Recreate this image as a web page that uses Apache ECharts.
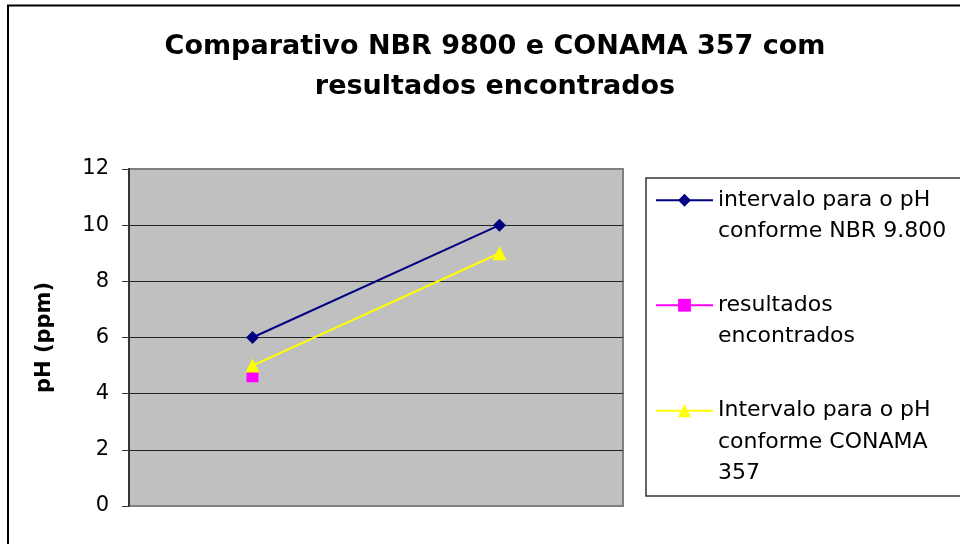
<!DOCTYPE html>
<html>
<head>
<meta charset="utf-8">
<script src="https://cdn.jsdelivr.net/npm/echarts@6/dist/echarts.min.js"></script>
<style>html,body{margin:0;padding:0;background:#fff}#c{width:960px;height:544px}</style>
</head>
<body>
<div id="c"></div>
<script>
const categories = ['1', '2'];
const nbrValues = [6, 10];
const resultadosValues = [4.6, null];
const conamaValues = [5, 9];
const seriesNames = [
  'intervalo para o pH\nconforme NBR 9.800',
  'resultados\nencontrados',
  'Intervalo para o pH\nconforme CONAMA\n357'
];
const titleText = 'Comparativo NBR 9800 e CONAMA 357 com\nresultados encontrados';
const yAxisName = 'pH (ppm)';

const FONT = 'DejaVu Sans';
const chart = echarts.init(document.getElementById('c'), null, {renderer: 'canvas'});

function legendFor(name, top) {
  const lines = name.split('\n').length;
  return {
    left: 650, top: top, orient: 'vertical', selectedMode: false,
    itemWidth: 57, itemHeight: 16,
    data: [name],
    formatter: function (n) { return ' \n'.repeat(lines - 1) + n; },
    textStyle: {fontFamily: FONT, fontSize: 22, lineHeight: 31.5, color: '#000'}
  };
}

chart.setOption({
  animation: false,
  backgroundColor: '#fff',
  title: {
    text: titleText, left: 490, top: 22, textAlign: 'center',
    textStyle: {fontFamily: FONT, fontSize: 27, fontWeight: 'bold', lineHeight: 40, color: '#000'}
  },
  graphic: [
    {type: 'rect', z: -10, shape: {x: 8, y: 5.5, width: 1000, height: 600}, style: {fill: null, stroke: '#000', lineWidth: 2}},
    {type: 'rect', z: -10, shape: {x: 646, y: 178, width: 400, height: 318}, style: {fill: null, stroke: '#333', lineWidth: 1.5}}
  ],
  legend: [
    legendFor(seriesNames[0], 148),
    legendFor(seriesNames[1], 253),
    legendFor(seriesNames[2], 327)
  ],
  grid: {
    left: 129, right: 337, top: 169, bottom: 38,
    show: true, backgroundColor: '#C0C0C0', borderColor: '#808080', borderWidth: 2
  },
  xAxis: {
    type: 'category', data: categories, boundaryGap: true,
    axisLine: {show: false}, axisTick: {show: false}, axisLabel: {show: false}, splitLine: {show: false}
  },
  yAxis: {
    type: 'value', min: 0, max: 12, interval: 2,
    name: yAxisName, nameLocation: 'middle', nameGap: 74,
    nameTextStyle: {fontFamily: FONT, fontSize: 21, fontWeight: 'bold', color: '#000'},
    axisLine: {show: true, lineStyle: {color: '#333', width: 2}},
    axisTick: {show: true, inside: false, length: 7, lineStyle: {color: '#333', width: 1}},
    axisLabel: {fontFamily: FONT, fontSize: 21, color: '#000', margin: 20},
    splitLine: {show: true, showMinLine: false, showMaxLine: false, lineStyle: {color: '#222', width: 1}}
  },
  series: [
    {name: seriesNames[0], type: 'line', data: nbrValues, symbol: 'diamond', symbolSize: 13,
     lineStyle: {color: '#000080', width: 2}, itemStyle: {color: '#000080'}},
    {name: seriesNames[1], type: 'line', data: resultadosValues, symbol: 'rect', symbolSize: [12, 11],
     lineStyle: {color: '#FF00FF', width: 2}, itemStyle: {color: '#FF00FF'}},
    {name: seriesNames[2], type: 'line', data: conamaValues, symbol: 'triangle', symbolSize: 14,
     lineStyle: {color: '#FFFF00', width: 2}, itemStyle: {color: '#FFFF00'}}
  ]
});
</script>
</body>
</html>
